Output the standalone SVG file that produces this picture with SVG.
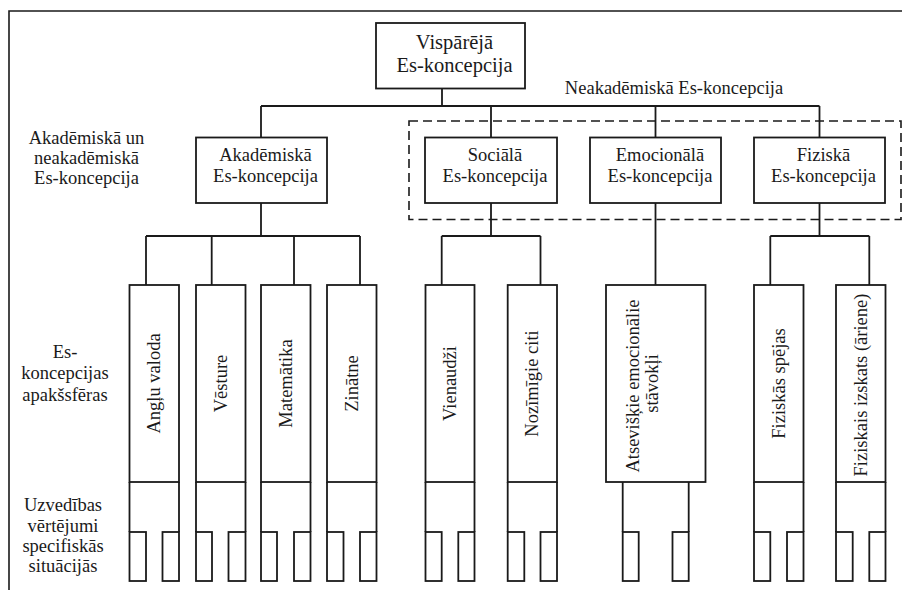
<svg xmlns="http://www.w3.org/2000/svg" width="902" height="590" viewBox="0 0 902 590">
  <style>
    .box { fill: #ffffff; stroke: #1a1a1a; stroke-width: 1.8; }
    .ln { fill: none; stroke: #1a1a1a; stroke-width: 1.8; }
    .dash { fill: none; stroke: #1a1a1a; stroke-width: 1.6; stroke-dasharray: 9 5; }
    .frame { fill: none; stroke: #1a1a1a; stroke-width: 1.6; }
    .t { font-family: 'Liberation Serif', serif; font-size: 18.5px; fill: #1a1a1a; }
    .mid { text-anchor: middle; }
    .big { font-size: 20.5px; }
  </style>

  <rect x="0" y="0" width="902" height="590" fill="#ffffff"/>

  <!-- outer frame (left and top edges) -->
  <path class="frame" d="M9,590 V11 H902"/>

  <!-- level captions on the left -->
  <g id="caption-level2" class="t">
    <text class="mid" x="86.5" y="144.3">Akadēmiskā un</text>
    <text class="mid" x="86.5" y="164.3">neakadēmiskā</text>
    <text class="mid" x="86.5" y="184">Es-koncepcija</text>
  </g>
  <g id="caption-level3" class="t">
    <text class="mid" x="65" y="357.5">Es-</text>
    <text class="mid" x="65" y="379.3">koncepcijas</text>
    <text class="mid" x="65" y="401">apakšsfēras</text>
  </g>
  <g id="caption-level4" class="t">
    <text class="mid" x="63" y="510.7">Uzvedības</text>
    <text class="mid" x="63" y="531.5">vērtējumi</text>
    <text class="mid" x="63" y="551.5">specifiskās</text>
    <text class="mid" x="63" y="572">situācijās</text>
  </g>

  <!-- non-academic grouping -->
  <g id="nonacademic-group" class="t">
    <rect class="dash" x="409" y="121" width="492" height="98.5"/>
    <text class="mid" x="674" y="94">Neakadēmiskā Es-koncepcija</text>
  </g>

  <!-- connectors -->
  <g id="connectors">
    <path class="ln" d="M442,88.5 V106 M261,106 H819.5
      M261,106 V137.5 M491,106 V137.5 M655.5,106 V137.5 M819.5,106 V137.5"/>
    <path class="ln" d="M261,203 V236 M146,236 H360
      M146,236 V285 M211.7,236 V285 M294,236 V285 M360,236 V285"/>
    <path class="ln" d="M491,203 V236 M441.7,236 H540.5 M441.7,236 V285 M540.5,236 V285"/>
    <path class="ln" d="M655.5,203 V285"/>
    <path class="ln" d="M819.5,203 V236 M770.3,236 H869.3 M770.3,236 V285 M869.3,236 V285"/>
  </g>

  <!-- root -->
  <g id="node-general" class="t">
    <rect class="box" x="376" y="23" width="149" height="65.5"/>
    <text class="mid big" x="454.5" y="49.3">Vispārējā</text>
    <text class="mid big" x="454.5" y="71.7">Es-koncepcija</text>
  </g>

  <!-- second level -->
  <g id="node-academic" class="t">
    <rect class="box" x="196" y="137.5" width="131" height="65.5"/>
    <text class="mid" x="265.5" y="161">Akadēmiskā</text>
    <text class="mid" x="265.5" y="181.7">Es-koncepcija</text>
  </g>
  <g id="node-social" class="t">
    <rect class="box" x="425" y="137.5" width="132" height="65.5"/>
    <text class="mid" x="495" y="161">Sociālā</text>
    <text class="mid" x="495" y="181.7">Es-koncepcija</text>
  </g>
  <g id="node-emotional" class="t">
    <rect class="box" x="590" y="137.5" width="131" height="65.5"/>
    <text class="mid" x="660" y="161">Emocionālā</text>
    <text class="mid" x="660" y="181.7">Es-koncepcija</text>
  </g>
  <g id="node-physical" class="t">
    <rect class="box" x="754" y="137.5" width="131" height="65.5"/>
    <text class="mid" x="823.5" y="161">Fiziskā</text>
    <text class="mid" x="823.5" y="181.7">Es-koncepcija</text>
  </g>

  <!-- sub-domain columns with situation boxes -->
  <g id="col-english" class="t">
    <rect class="box" x="129.5" y="285" width="49.5" height="197"/>
    <path class="ln" d="M129.5,482 V532 M179,482 V532"/>
    <rect class="box" x="129.5" y="532" width="16.5" height="49"/>
    <rect class="box" x="162.5" y="532" width="16.5" height="49"/>
    <text class="mid" transform="translate(160.3,383.5) rotate(-90)">Angļu valoda</text>
  </g>
  <g id="col-history" class="t">
    <rect class="box" x="196" y="285" width="49.5" height="197"/>
    <path class="ln" d="M196,482 V532 M245.5,482 V532"/>
    <rect class="box" x="196" y="532" width="16" height="49"/>
    <rect class="box" x="228.5" y="532" width="17" height="49"/>
    <text class="mid" transform="translate(226.8,383.5) rotate(-90)">Vēsture</text>
  </g>
  <g id="col-math" class="t">
    <rect class="box" x="261" y="285" width="49.5" height="197"/>
    <path class="ln" d="M261,482 V532 M310.5,482 V532"/>
    <rect class="box" x="261" y="532" width="16" height="49"/>
    <rect class="box" x="294" y="532" width="16.5" height="49"/>
    <text class="mid" transform="translate(291.8,383.5) rotate(-90)">Matemātika</text>
  </g>
  <g id="col-science" class="t">
    <rect class="box" x="327" y="285" width="49.5" height="197"/>
    <path class="ln" d="M327,482 V532 M376.5,482 V532"/>
    <rect class="box" x="327" y="532" width="16.5" height="49"/>
    <rect class="box" x="360" y="532" width="16.5" height="49"/>
    <text class="mid" transform="translate(357.8,383.5) rotate(-90)">Zinātne</text>
  </g>
  <g id="col-peers" class="t">
    <rect class="box" x="425.5" y="285" width="49" height="197"/>
    <path class="ln" d="M425.5,482 V532 M474.5,482 V532"/>
    <rect class="box" x="425.5" y="532" width="16.2" height="49"/>
    <rect class="box" x="458.3" y="532" width="16.2" height="49"/>
    <text class="mid" transform="translate(456,383.5) rotate(-90)">Vienaudži</text>
  </g>
  <g id="col-significant-others" class="t">
    <rect class="box" x="507.7" y="285" width="49.3" height="197"/>
    <path class="ln" d="M507.7,482 V532 M557,482 V532"/>
    <rect class="box" x="507.7" y="532" width="16.6" height="49"/>
    <rect class="box" x="540.5" y="532" width="16.5" height="49"/>
    <text class="mid" transform="translate(538.4,383.5) rotate(-90)">Nozīmīgie citi</text>
  </g>
  <g id="col-emotional-states" class="t">
    <rect class="box" x="606" y="285" width="99.5" height="197"/>
    <path class="ln" d="M622.7,482 V532 M688.7,482 V532"/>
    <rect class="box" x="622.7" y="532" width="16" height="49"/>
    <rect class="box" x="672.5" y="532" width="16.2" height="49"/>
    <text class="mid" transform="translate(639,386) rotate(-90)">Atsevišķie emocionālie</text>
    <text class="mid" transform="translate(658,383.5) rotate(-90)">stāvokļi</text>
  </g>
  <g id="col-physical-ability" class="t">
    <rect class="box" x="754" y="285" width="49.5" height="197"/>
    <path class="ln" d="M754,482 V532 M803.5,482 V532"/>
    <rect class="box" x="754" y="532" width="16.3" height="49"/>
    <rect class="box" x="787" y="532" width="16.5" height="49"/>
    <text class="mid" transform="translate(784.7,383.5) rotate(-90)">Fiziskās spējas</text>
  </g>
  <g id="col-appearance" class="t">
    <rect class="box" x="836" y="285" width="49.5" height="197"/>
    <path class="ln" d="M836,482 V532 M885.5,482 V532"/>
    <rect class="box" x="836" y="532" width="16.7" height="49"/>
    <rect class="box" x="869.3" y="532" width="16.2" height="49"/>
    <text class="mid" transform="translate(866.7,385) rotate(-90)">Fiziskais izskats (āriene)</text>
  </g>
</svg>
